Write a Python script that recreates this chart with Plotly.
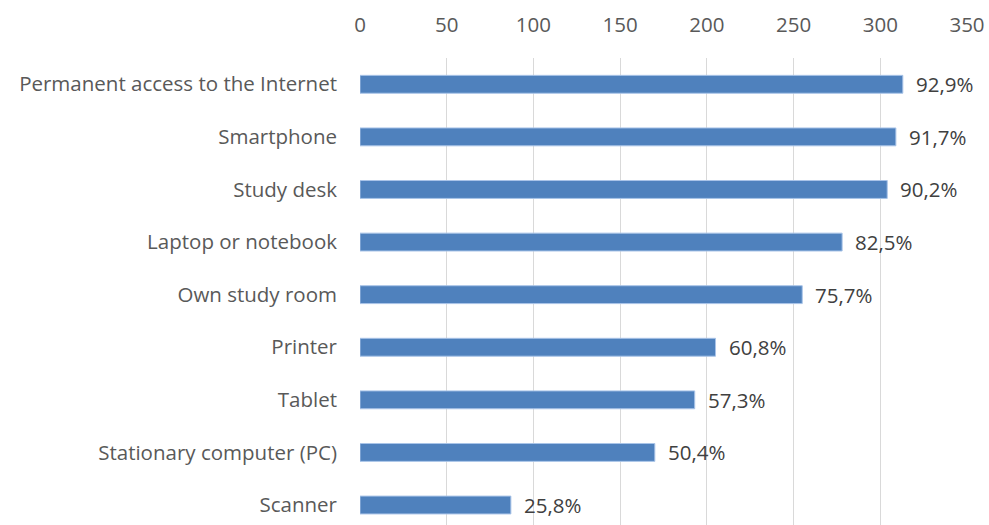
import plotly.graph_objects as go

# Equipment available to students (number of respondents, share in %)
categories = [
    "Permanent access to the Internet",
    "Smartphone",
    "Study desk",
    "Laptop or notebook",
    "Own study room",
    "Printer",
    "Tablet",
    "Stationary computer (PC)",
    "Scanner",
]
counts = [313, 309, 304, 278, 255, 205, 193, 170, 87]
shares = ["92,9%", "91,7%", "90,2%", "82,5%", "75,7%", "60,8%", "57,3%", "50,4%", "25,8%"]
x_ticks = [0, 50, 100, 150, 200, 250, 300, 350]

FONT = "Open Sans"
SIZE = 20.5

fig = go.Figure(
    go.Bar(
        x=counts,
        y=categories,
        orientation="h",
        width=0.34,
        marker=dict(color="#4f81bd", line=dict(color="#a9c4e8", width=1)),
        hoverinfo="x+y",
    )
)

for cat, val, lab in zip(categories, counts, shares):
    fig.add_annotation(
        x=val, y=cat, text=lab, showarrow=False,
        xanchor="left", yanchor="middle", xshift=11,
        font=dict(family=FONT, size=SIZE, color="#404040"),
    )

fig.update_layout(
    width=989,
    height=525,
    margin=dict(l=360, r=22, t=58, b=0),
    paper_bgcolor="white",
    plot_bgcolor="white",
    showlegend=False,
    font=dict(family=FONT, size=SIZE, color="#595959"),
    xaxis=dict(
        side="top",
        range=[0, 350],
        tickvals=x_ticks,
        showgrid=True,
        gridcolor="#d9d9d9",
        gridwidth=1,
        zeroline=False,
        showline=False,
        ticks="",
        ticklabelstandoff=21,
        tickfont=dict(family=FONT, size=SIZE, color="#595959"),
    ),
    yaxis=dict(
        type="category",
        categoryorder="array",
        categoryarray=categories,
        range=[8.38, -0.5],
        showgrid=False,
        zeroline=False,
        showline=False,
        ticks="",
        ticklabelstandoff=22,
        tickfont=dict(family=FONT, size=SIZE, color="#595959"),
    ),
)

fig.write_html("out.html")
